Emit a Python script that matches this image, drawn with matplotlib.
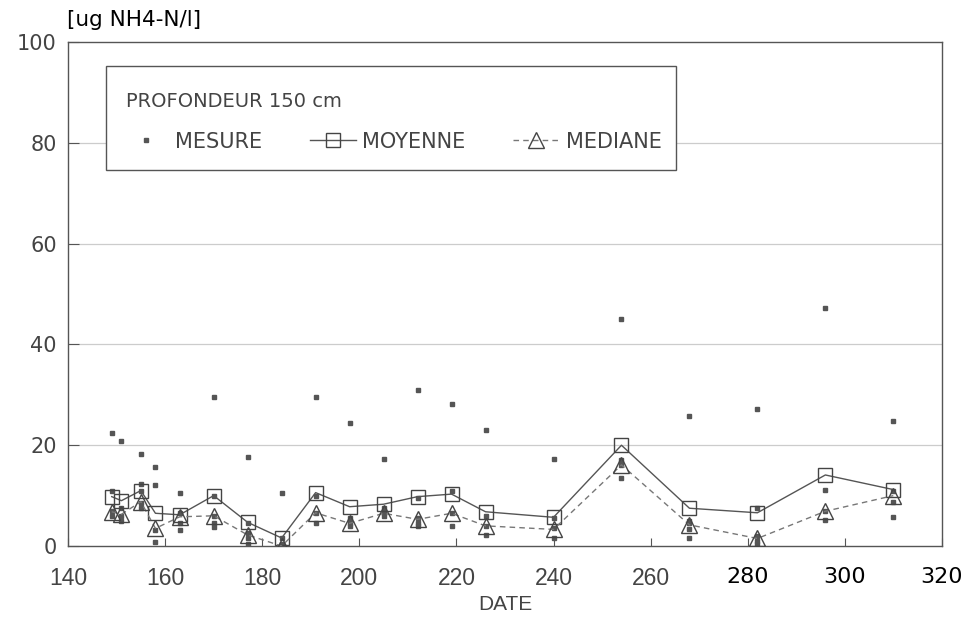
import numpy as np
import matplotlib
matplotlib.use("Agg")
import matplotlib.pyplot as plt
from matplotlib.patches import Rectangle

plt.rcParams["font.family"] = ["DejaVu Sans"]

# Sampling dates (day of year)
dates = [149, 151, 155, 158, 163, 170, 177, 184, 191, 198, 205, 212, 219, 226,
         240, 254, 268, 282, 296, 310]

# Mean and median per date [ug NH4-N/l]
moyenne = [9.8, 9.0, 11.0, 6.5, 6.2, 10.0, 4.7, 1.6, 10.6, 7.8, 8.3, 9.8, 10.3,
           6.8, 5.7, 20.0, 7.5, 6.6, 14.1, 11.2]
mediane = [6.8, 6.3, 8.8, 3.5, 5.8, 6.0, 2.2, 0.0, 6.6, 4.5, 6.5, 5.3, 6.5,
           4.0, 3.3, 16.1, 4.2, 1.5, 6.9, 10.0]

# Individual measurements per date
mesures = [
    [22.4, 11.0, 7.0, 6.0],
    [20.9, 7.5, 5.0, 6.0],
    [18.2, 12.4, 11.0, 8.5, 7.5],
    [15.7, 12.1, 3.2, 0.9],
    [10.6, 6.5, 4.5, 3.2],
    [29.5, 10.0, 6.0, 4.5, 3.8],
    [17.7, 4.5, 2.5, 1.5, 0.5],
    [10.6, 1.5, 0.5, 0.3],
    [29.6, 10.0, 6.5, 4.6],
    [24.5, 5.5, 4.5, 4.0],
    [17.3, 7.5, 6.5, 6.0],
    [31.0, 9.5, 5.5, 4.5, 4.0],
    [28.1, 11.0, 6.5, 4.0],
    [23.1, 6.0, 4.0, 2.2],
    [17.2, 5.5, 3.5, 1.5],
    [45.0, 17.0, 16.0, 13.4],
    [25.8, 5.0, 4.5, 3.3, 1.5],
    [27.1, 7.5, 2.0, 1.0, 0.5],
    [47.3, 11.1, 7.0, 5.2],
    [24.9, 11.0, 8.8, 5.8],
]

x_ticks = [140, 160, 180, 200, 220, 240, 260, 280, 300, 320]
y_ticks = [0, 20, 40, 60, 80, 100]

fig = plt.figure(figsize=(9.72, 6.17), dpi=100)
ax = fig.add_axes([0.070, 0.115, 0.899, 0.817])

grey = "#555555"
txt = "#444444"

# measurements
mx = [d for d, vals in zip(dates, mesures) for _ in vals]
my = [v for vals in mesures for v in vals]
ax.plot(mx, my, ls="none", marker="s", ms=3.0, color="#555555",
        mec="#555555", label="MESURE", zorder=3)

ax.plot(dates, moyenne, color=grey, lw=1.0, marker="s", ms=9.5,
        mfc="none", mec="#444444", mew=1.0, label="MOYENNE", zorder=4)
ax.plot(dates, mediane, color="#777777", lw=1.0, ls=(0, (4, 3)), marker="^",
        ms=11, mfc="none", mec="#444444", mew=1.0, label="MEDIANE", zorder=4)

ax.set_xlim(140, 320)
ax.set_ylim(0, 100)
ax.set_xticks(x_ticks)
ax.set_yticks(y_ticks)
ax.tick_params(direction="in", width=0.8, color=grey, labelcolor=txt)
ax.tick_params(axis="y", length=8, labelsize=15, pad=8)
ax.tick_params(axis="x", length=6, labelsize=16.5, pad=15)
for lbl in ax.get_xticklabels():
    if lbl.get_text() in ("280", "300", "320"):
        lbl.set_color("black")
        lbl.set_fontsize(16)
    else:
        lbl.set_fontfamily("Liberation Sans")

for y in [20, 40, 60, 80]:
    ax.axhline(y, color="#cccccc", lw=0.9, zorder=1)

for sp in ax.spines.values():
    sp.set_color(grey)
    sp.set_linewidth(1.0)

ax.set_xlabel("DATE", fontsize=15, color=txt, labelpad=4,
              fontfamily="Liberation Sans")
fig.text(0.069, 0.967, "[ug NH4-N/l]", fontsize=15.5, color="black",
         ha="left", va="center")

# legend box with title
ax.add_patch(Rectangle((0.0435, 0.746), 0.652, 0.206, transform=ax.transAxes,
                       fill=True, facecolor="white", edgecolor=grey, lw=1.0,
                       zorder=5))
ax.text(0.066, 0.881, "PROFONDEUR 150 cm", transform=ax.transAxes,
        fontsize=14, color=txt, ha="left", va="center", zorder=6)
leg = ax.legend(loc="center left", bbox_to_anchor=(0.063, 0.802), ncol=3,
                fontsize=15, frameon=False, borderpad=0, borderaxespad=0,
                handlelength=2.2, handletextpad=0.3, columnspacing=2.3)
leg.set_zorder(7)
for t in leg.get_texts():
    t.set_color(txt)

fig.savefig("out.png", dpi=100)
